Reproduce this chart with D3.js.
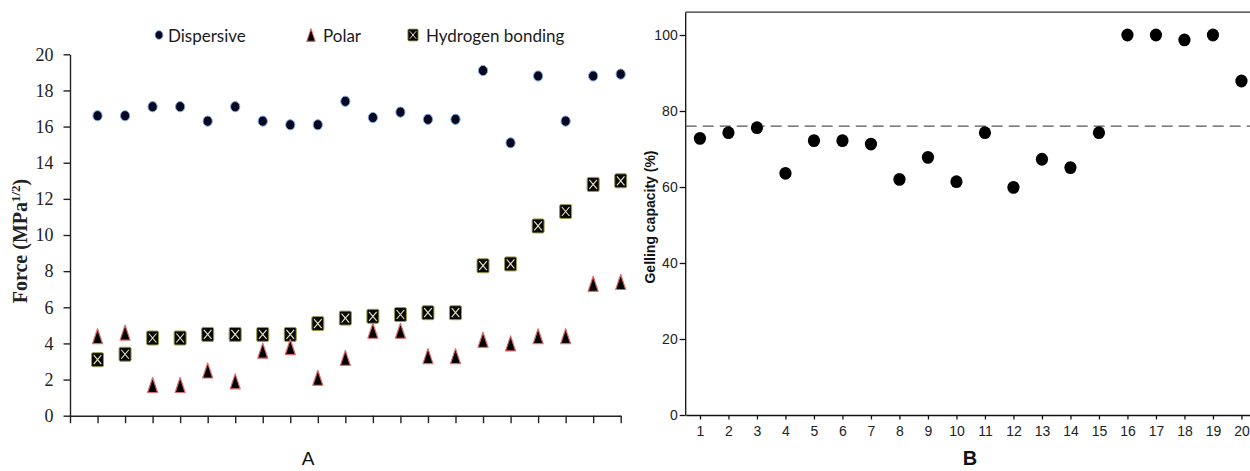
<!DOCTYPE html>
<html>
<head>
<meta charset="utf-8">
<script src="https://cdn.jsdelivr.net/npm/d3@7"></script>
<style>
  html, body { margin: 0; padding: 0; background: #fff; }
  svg { display: block; }
</style>
</head>
<body>
<svg id="chart" width="1250" height="471"></svg>
<script>
// panel A: Hansen solubility components for 20 samples
const samples = d3.range(1, 21);
const dispersive = [16.6, 16.6, 17.1, 17.1, 16.3, 17.1, 16.3, 16.1, 16.1, 17.4,
                    16.5, 16.8, 16.4, 16.4, 19.1, 15.1, 18.8, 16.3, 18.8, 18.9];
const polar = [4.4, 4.6, 1.7, 1.7, 2.5, 1.9, 3.6, 3.8, 2.1, 3.2,
               4.7, 4.7, 3.3, 3.3, 4.2, 4.0, 4.4, 4.4, 7.3, 7.4];
const hbond = [3.1, 3.4, 4.3, 4.3, 4.5, 4.5, 4.5, 4.5, 5.1, 5.4,
               5.5, 5.6, 5.7, 5.7, 8.3, 8.4, 10.5, 11.3, 12.8, 13.0];
const forceTicks = [0, 2, 4, 6, 8, 10, 12, 14, 16, 18, 20];

// panel B: gelling capacity
const gelling = [72.8, 74.3, 75.6, 63.6, 72.2, 72.2, 71.3, 62.0, 67.8, 61.4,
                 74.3, 59.9, 67.3, 65.1, 74.3, 100, 100, 98.7, 100, 87.9];
const gellingTicks = [0, 20, 40, 60, 80, 100];
const gellingRef = 76;

const svg = d3.select('#chart');

// ---------- panel A ----------
const xA = d3.scaleLinear().domain([0, 20]).range([70, 620.7]);
const yA = d3.scaleLinear().domain([0, 20]).range([415.7, 54.3]);

const gA = svg.append('g');

const axisLeftA = gA.append('g')
  .attr('transform', `translate(${xA(0)},0)`)
  .call(d3.axisLeft(yA).tickValues(forceTicks).tickSize(6.5).tickSizeOuter(0).tickPadding(10));
const axisBottomA = gA.append('g')
  .attr('transform', `translate(0,${yA(0)})`)
  .call(d3.axisBottom(xA).tickValues(d3.range(0, 21)).tickFormat('').tickSize(7.5).tickSizeOuter(0));

[axisLeftA, axisBottomA].forEach(a => {
  a.selectAll('path, line').attr('stroke', '#222').attr('stroke-width', 1.4);
});
axisLeftA.selectAll('text')
  .style('font-family', '"Liberation Serif", "Times New Roman", serif')
  .style('font-size', '18px')
  .attr('fill', '#222');

// y label
gA.append('text')
  .attr('transform', 'translate(27,241) rotate(-90)')
  .attr('text-anchor', 'middle')
  .style('font-family', '"Liberation Serif", "Times New Roman", serif')
  .style('font-weight', 'bold')
  .style('font-size', '20px')
  .attr('fill', '#222')
  .call(t => {
    t.append('tspan').text('Force  (MPa');
    t.append('tspan').attr('dy', -7).style('font-size', '13px').text('1/2');
    t.append('tspan').attr('dy', 7).text(')');
  });

// markers
function circleMark(g) {
  g.append('ellipse').attr('rx', 4.6).attr('ry', 5.1)
    .attr('fill', '#070720').attr('stroke', '#7aa6e6').attr('stroke-width', 1);
}
function triMark(g) {
  g.append('path').attr('d', 'M0,-7.5 L5,7.5 L-5,7.5 Z')
    .attr('fill', '#000').attr('stroke', '#e06a6a').attr('stroke-width', 1.2)
    .attr('stroke-linejoin', 'round');
}
function boxMark(g) {
  g.append('rect').attr('x', -6).attr('y', -7).attr('width', 12).attr('height', 14)
    .attr('rx', 1.5).attr('fill', '#080808').attr('stroke', '#9a9a4a').attr('stroke-width', 1);
  g.append('path').attr('d', 'M-3.8,-4.5 L3.8,4.5 M3.8,-4.5 L-3.8,4.5')
    .attr('stroke', '#ecebc0').attr('stroke-width', 1.1).attr('fill', 'none');
}

const seriesA = [
  { name: 'Dispersive', values: dispersive, mark: circleMark },
  { name: 'Polar', values: polar, mark: triMark },
  { name: 'Hydrogen bonding', values: hbond, mark: boxMark }
];

// draw hydrogen first, then polar, then dispersive on top
[seriesA[2], seriesA[1], seriesA[0]].forEach(s => {
  gA.append('g').selectAll('g')
    .data(s.values)
    .join('g')
    .attr('transform', (d, i) => `translate(${xA(samples[i])},${yA(d)})`)
    .each(function () { s.mark(d3.select(this)); });
});

// legend
const legendPos = [
  { mark: 159, text: 168 },
  { mark: 311, text: 323 },
  { mark: 413, text: 426 }
];
seriesA.forEach((s, i) => {
  const lg = gA.append('g');
  const m = lg.append('g').attr('transform', `translate(${legendPos[i].mark},35) scale(0.85)`);
  s.mark(m);
  lg.append('text')
    .attr('x', legendPos[i].text)
    .attr('y', 41.5)
    .style('font-family', 'Lato, "Open Sans", sans-serif')
    .style('font-size', '17px')
    .attr('fill', '#1a1a1a')
    .text(s.name);
});

gA.append('text')
  .attr('x', 308).attr('y', 465)
  .attr('text-anchor', 'middle')
  .style('font-family', '"Liberation Sans", Arial, sans-serif')
  .style('font-size', '19px')
  .attr('fill', '#111')
  .text('A');

// ---------- panel B ----------
const xB = d3.scaleLinear().domain([0.5, 20.5]).range([685.7, 1255.7]);
const yB = d3.scaleLinear().domain([0, 106]).range([415, 12.2]);

const gB = svg.append('g');

// top frame line
gB.append('line')
  .attr('x1', xB(0.5)).attr('x2', 1250)
  .attr('y1', yB(106)).attr('y2', yB(106))
  .attr('stroke', '#333').attr('stroke-width', 1.3);

const axisLeftB = gB.append('g')
  .attr('transform', `translate(${xB(0.5)},0)`)
  .call(d3.axisLeft(yB).tickValues(gellingTicks).tickSize(6).tickSizeOuter(0).tickPadding(2));
const axisBottomB = gB.append('g')
  .attr('transform', `translate(0,${yB(0)})`)
  .call(d3.axisBottom(xB).tickValues(samples).tickFormat(d3.format('d')).tickSize(4.5).tickSizeOuter(0).tickPadding(6.5));

[axisLeftB, axisBottomB].forEach(a => {
  a.selectAll('path, line').attr('stroke', '#111').attr('stroke-width', 1.3);
  a.selectAll('text')
    .style('font-family', '"Liberation Sans", Arial, sans-serif')
    .style('font-size', '14px')
    .attr('fill', '#222');
});
axisLeftB.select('.domain').attr('d', `M0,${yB(106)}V${yB(0)}`);

// reference dashed line
gB.append('line')
  .attr('x1', xB(0.5)).attr('x2', 1250)
  .attr('y1', yB(gellingRef)).attr('y2', yB(gellingRef))
  .attr('stroke', '#555').attr('stroke-width', 1.3)
  .attr('stroke-dasharray', '11,6');

gB.append('g').selectAll('ellipse')
  .data(gelling)
  .join('ellipse')
  .attr('cx', (d, i) => xB(samples[i]))
  .attr('cy', d => yB(d))
  .attr('rx', 6.1).attr('ry', 6.4)
  .attr('fill', '#000');

gB.append('text')
  .attr('transform', 'translate(655,217) rotate(-90)')
  .attr('text-anchor', 'middle')
  .style('font-family', '"Liberation Sans", Arial, sans-serif')
  .style('font-weight', 'bold')
  .style('font-size', '14px')
  .attr('fill', '#111')
  .text('Gelling capacity (%)');

gB.append('text')
  .attr('x', 970).attr('y', 465)
  .attr('text-anchor', 'middle')
  .style('font-family', '"Liberation Sans", Arial, sans-serif')
  .style('font-weight', 'bold')
  .style('font-size', '20px')
  .attr('fill', '#111')
  .text('B');
</script>
</body>
</html>
